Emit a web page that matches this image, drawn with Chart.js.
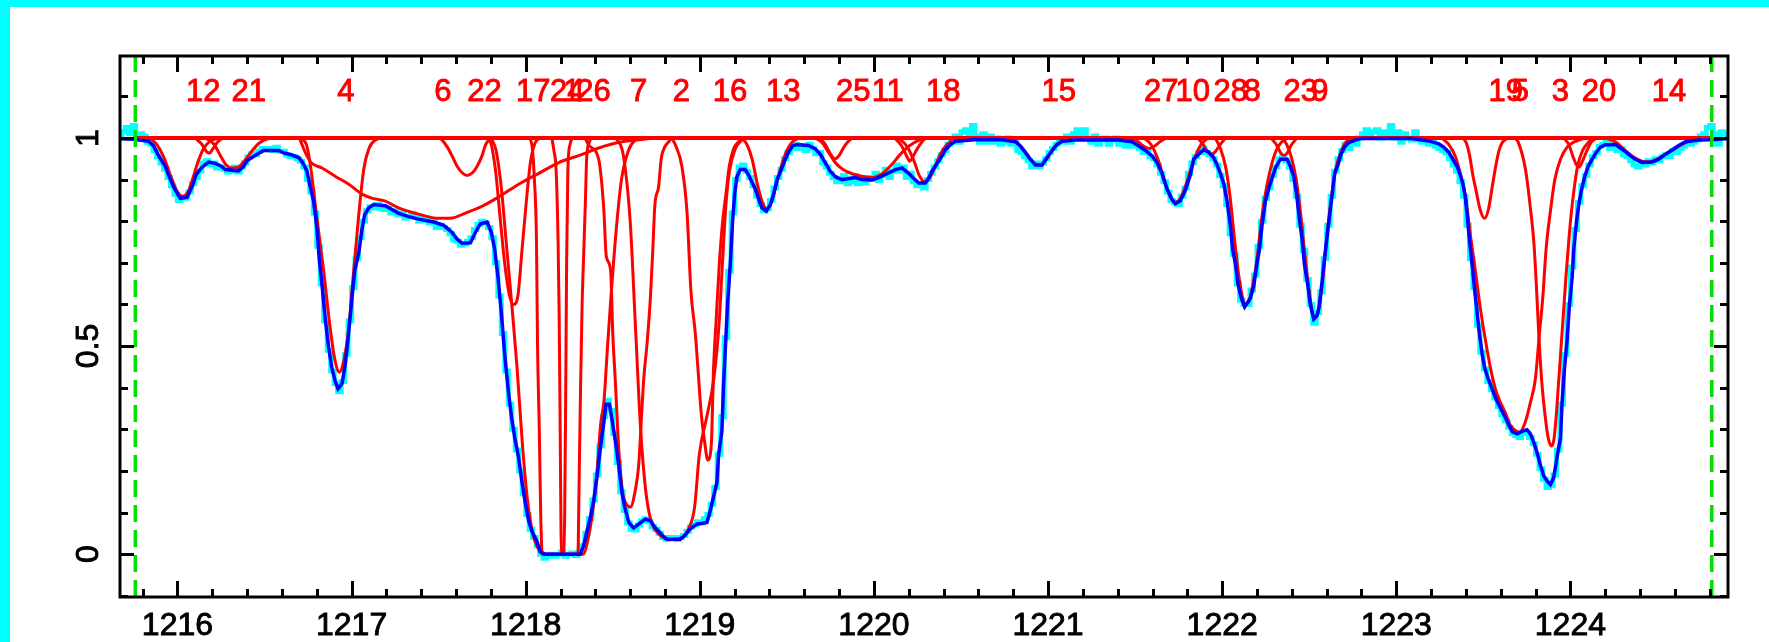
<!DOCTYPE html>
<html>
<head>
<meta charset="utf-8">
<script src="https://cdn.jsdelivr.net/npm/chart.js@4.4.1/dist/chart.umd.min.js"></script>
<style>
  html, body { margin: 0; padding: 0; background: #fff; }
  #wrap { position: relative; width: 1769px; height: 642px; }
</style>
</head>
<body>
<div id="wrap"><canvas id="spec" width="1769" height="642"></canvas></div>
<script>
// Axis ranges (wavelength in Angstrom, normalised flux)
const xMin = 1215.67, xMax = 1224.905;
const yMin = -0.103, yMax = 1.197;
const xTickLabels = [1216, 1217, 1218, 1219, 1220, 1221, 1222, 1223, 1224];
const yTickLabels = [0, 0.5, 1];
const fitRange = [1215.758, 1224.812];

// Component ids written across the top, at the wavelength where each starts
const labelNames = ['12', '21', '4', '6', '22', '17', '24', '1', '26', '7', '2', '16', '13', '25', '11',
  '18', '15', '27', '10', '28', '8', '23', '9', '19', '5', '3', '20', '14'];
const labelWaves = [1216.049, 1216.311, 1216.918, 1217.475, 1217.665, 1217.944, 1218.140, 1218.215,
  1218.291, 1218.599, 1218.844, 1219.074, 1219.380, 1219.782, 1219.987, 1220.299, 1220.963,
  1221.551, 1221.732, 1221.950, 1222.122, 1222.352, 1222.512, 1223.529, 1223.663, 1223.893,
  1224.065, 1224.467];

// Observed spectrum (cyan histogram)
const dataFlux = [
  [1215.67,1.005],[1215.69,1.015],[1215.71,1.025],[1215.73,1.01],[1215.75,1.03],[1215.77,1.0],[1215.79,1.01],[1215.81,1.005],
  [1215.83,0.99],[1215.85,0.985],[1215.87,0.97],[1215.89,0.955],[1215.91,0.94],[1215.93,0.925],[1215.95,0.905],[1215.97,0.885],
  [1215.99,0.865],[1216.01,0.85],[1216.03,0.855],[1216.05,0.855],[1216.07,0.87],[1216.09,0.89],[1216.11,0.905],[1216.13,0.92],
  [1216.15,0.94],[1216.17,0.945],[1216.19,0.935],[1216.21,0.94],[1216.23,0.928],[1216.25,0.93],[1216.27,0.925],[1216.29,0.918],
  [1216.31,0.92],[1216.33,0.93],[1216.35,0.918],[1216.37,0.93],[1216.39,0.94],[1216.41,0.955],[1216.43,0.962],[1216.45,0.96],
  [1216.47,0.968],[1216.49,0.975],[1216.51,0.972],[1216.53,0.975],[1216.55,0.97],[1216.57,0.978],[1216.59,0.968],[1216.61,0.968],
  [1216.63,0.96],[1216.65,0.955],[1216.67,0.955],[1216.69,0.95],[1216.71,0.944],[1216.73,0.93],[1216.75,0.9],[1216.77,0.87],
  [1216.79,0.82],[1216.81,0.74],[1216.83,0.65],[1216.85,0.56],[1216.87,0.49],[1216.89,0.44],[1216.91,0.41],[1216.93,0.39],
  [1216.95,0.415],[1216.97,0.48],[1216.99,0.56],[1217.01,0.64],[1217.03,0.71],[1217.05,0.76],[1217.07,0.80],[1217.09,0.825],
  [1217.11,0.835],[1217.13,0.832],[1217.15,0.84],[1217.17,0.83],[1217.19,0.828],[1217.21,0.832],[1217.23,0.82],[1217.25,0.825],
  [1217.27,0.815],[1217.29,0.82],[1217.31,0.808],[1217.33,0.81],[1217.35,0.818],[1217.37,0.81],[1217.39,0.8],[1217.41,0.808],
  [1217.43,0.802],[1217.45,0.796],[1217.47,0.80],[1217.49,0.785],[1217.51,0.79],[1217.53,0.785],[1217.55,0.78],[1217.57,0.77],
  [1217.59,0.755],[1217.61,0.752],[1217.63,0.742],[1217.65,0.745],[1217.67,0.752],[1217.69,0.76],[1217.71,0.78],[1217.73,0.792],
  [1217.75,0.8],[1217.77,0.795],[1217.79,0.785],[1217.81,0.76],[1217.83,0.70],[1217.85,0.62],[1217.87,0.53],[1217.89,0.44],
  [1217.91,0.36],[1217.93,0.30],[1217.95,0.25],[1217.97,0.20],[1217.99,0.145],[1218.01,0.095],[1218.03,0.06],[1218.05,0.04],
  [1218.07,0.02],[1218.09,0.0],[1218.11,-0.01],[1218.13,-0.005],[1218.15,0.0],[1218.17,-0.005],[1218.19,0.0],[1218.21,0.005],
  [1218.23,-0.005],[1218.25,0.0],[1218.27,0.003],[1218.29,-0.003],[1218.31,0.005],[1218.33,0.02],[1218.35,0.05],[1218.37,0.085],
  [1218.39,0.13],[1218.41,0.19],[1218.43,0.26],[1218.45,0.33],[1218.47,0.37],[1218.49,0.345],[1218.51,0.29],[1218.53,0.22],
  [1218.55,0.15],[1218.57,0.105],[1218.59,0.075],[1218.61,0.06],[1218.63,0.058],[1218.65,0.07],[1218.67,0.08],[1218.69,0.085],
  [1218.71,0.078],[1218.73,0.065],[1218.75,0.06],[1218.77,0.05],[1218.79,0.04],[1218.81,0.035],[1218.83,0.04],[1218.85,0.04],
  [1218.87,0.035],[1218.89,0.04],[1218.91,0.045],[1218.93,0.055],[1218.95,0.065],[1218.97,0.07],[1218.99,0.078],[1219.01,0.075],
  [1219.03,0.085],[1219.05,0.095],[1219.07,0.12],[1219.09,0.16],[1219.11,0.24],[1219.13,0.33],[1219.15,0.52],[1219.17,0.68],
  [1219.19,0.82],[1219.21,0.90],[1219.23,0.93],[1219.25,0.935],[1219.27,0.92],[1219.29,0.905],[1219.31,0.885],[1219.33,0.86],
  [1219.35,0.84],[1219.37,0.825],[1219.39,0.83],[1219.41,0.85],[1219.43,0.88],[1219.45,0.905],[1219.47,0.925],[1219.49,0.95],
  [1219.51,0.965],[1219.53,0.975],[1219.55,0.985],[1219.57,0.975],[1219.59,0.98],[1219.61,0.97],[1219.63,0.985],[1219.65,0.975],
  [1219.67,0.962],[1219.69,0.965],[1219.71,0.94],[1219.73,0.93],[1219.75,0.915],[1219.77,0.905],[1219.79,0.895],[1219.81,0.895],
  [1219.83,0.91],[1219.85,0.89],[1219.87,0.895],[1219.89,0.91],[1219.91,0.89],[1219.93,0.9],[1219.95,0.892],[1219.97,0.905],
  [1219.99,0.90],[1220.01,0.915],[1220.03,0.898],[1220.05,0.91],[1220.07,0.925],[1220.09,0.905],[1220.11,0.92],[1220.13,0.935],
  [1220.15,0.92],[1220.17,0.93],[1220.19,0.905],[1220.21,0.915],[1220.23,0.895],[1220.25,0.885],[1220.27,0.89],[1220.29,0.88],
  [1220.31,0.9],[1220.33,0.915],[1220.35,0.93],[1220.37,0.945],[1220.39,0.96],[1220.41,0.97],[1220.43,0.985],[1220.45,0.99],
  [1220.47,1.005],[1220.49,0.99],[1220.51,1.015],[1220.53,1.02],[1220.55,1.01],[1220.57,1.03],[1220.59,1.005],[1220.61,0.99],
  [1220.63,1.01],[1220.65,0.99],[1220.67,1.005],[1220.69,0.99],[1220.71,1.0],[1220.73,0.985],[1220.75,0.99],[1220.77,1.0],
  [1220.79,0.985],[1220.81,0.99],[1220.83,0.97],[1220.85,0.965],[1220.87,0.955],[1220.89,0.945],[1220.91,0.93],[1220.93,0.94],
  [1220.95,0.93],[1220.97,0.94],[1220.99,0.95],[1221.01,0.965],[1221.03,0.975],[1221.05,0.985],[1221.07,0.995],[1221.09,0.99],
  [1221.11,1.005],[1221.13,0.99],[1221.15,1.01],[1221.17,1.02],[1221.19,1.005],[1221.21,1.02],[1221.23,1.0],[1221.25,0.99],
  [1221.27,1.005],[1221.29,0.985],[1221.31,0.995],[1221.33,1.0],[1221.35,0.985],[1221.37,0.995],[1221.39,1.0],[1221.41,0.985],
  [1221.43,0.995],[1221.45,0.98],[1221.47,0.99],[1221.49,0.98],[1221.51,0.985],[1221.53,0.975],[1221.55,0.965],[1221.57,0.97],
  [1221.59,0.955],[1221.61,0.95],[1221.63,0.935],[1221.65,0.915],[1221.67,0.895],[1221.69,0.87],[1221.71,0.85],[1221.73,0.845],
  [1221.75,0.84],[1221.77,0.86],[1221.79,0.88],[1221.81,0.915],[1221.83,0.94],[1221.85,0.955],[1221.87,0.965],[1221.89,0.975],
  [1221.91,0.965],[1221.93,0.96],[1221.95,0.95],[1221.97,0.935],[1221.99,0.91],[1222.01,0.885],[1222.03,0.84],[1222.05,0.77],
  [1222.07,0.72],[1222.09,0.65],[1222.11,0.61],[1222.13,0.6],[1222.15,0.6],[1222.17,0.635],[1222.19,0.67],[1222.21,0.74],
  [1222.23,0.80],[1222.25,0.855],[1222.27,0.88],[1222.29,0.91],[1222.31,0.93],[1222.33,0.95],[1222.35,0.955],[1222.37,0.945],
  [1222.39,0.93],[1222.41,0.9],[1222.43,0.86],[1222.45,0.79],[1222.47,0.73],[1222.49,0.66],[1222.51,0.6],[1222.53,0.555],
  [1222.55,0.58],[1222.57,0.63],[1222.59,0.71],[1222.61,0.79],[1222.63,0.86],[1222.65,0.92],[1222.67,0.95],[1222.69,0.97],
  [1222.71,0.985],[1222.73,0.975],[1222.75,0.995],[1222.77,0.985],[1222.79,1.0],[1222.81,1.01],[1222.83,1.02],[1222.85,1.005],
  [1222.87,1.015],[1222.89,1.02],[1222.91,1.0],[1222.93,1.015],[1222.95,1.01],[1222.97,1.03],[1222.99,1.0],[1223.01,1.015],
  [1223.03,0.99],[1223.05,1.01],[1223.07,1.0],[1223.09,0.995],[1223.11,1.015],[1223.13,0.995],[1223.15,0.99],[1223.17,0.995],
  [1223.19,0.985],[1223.21,0.99],[1223.23,0.98],[1223.25,0.975],[1223.27,0.97],[1223.29,0.965],[1223.31,0.95],[1223.33,0.935],
  [1223.35,0.92],[1223.37,0.895],[1223.39,0.86],[1223.41,0.79],[1223.43,0.71],[1223.45,0.64],[1223.47,0.55],[1223.49,0.485],
  [1223.51,0.445],[1223.53,0.415],[1223.55,0.395],[1223.57,0.375],[1223.59,0.355],[1223.61,0.335],[1223.63,0.32],[1223.65,0.305],
  [1223.67,0.29],[1223.69,0.285],[1223.71,0.28],[1223.73,0.29],[1223.75,0.29],[1223.77,0.28],[1223.79,0.265],[1223.81,0.24],
  [1223.83,0.205],[1223.85,0.18],[1223.87,0.16],[1223.89,0.165],[1223.91,0.19],[1223.93,0.25],[1223.95,0.36],[1223.97,0.48],
  [1223.99,0.6],[1224.01,0.69],[1224.03,0.78],[1224.05,0.845],[1224.07,0.885],[1224.09,0.91],[1224.11,0.935],[1224.13,0.955],
  [1224.15,0.965],[1224.17,0.98],[1224.19,0.985],[1224.21,0.99],[1224.23,0.975],[1224.25,0.985],[1224.27,0.97],[1224.29,0.975],
  [1224.31,0.96],[1224.33,0.955],[1224.35,0.945],[1224.37,0.935],[1224.39,0.93],[1224.41,0.94],[1224.43,0.935],[1224.45,0.945],
  [1224.47,0.94],[1224.49,0.95],[1224.51,0.945],[1224.53,0.955],[1224.55,0.96],[1224.57,0.955],[1224.59,0.97],[1224.61,0.965],
  [1224.63,0.975],[1224.65,0.98],[1224.67,0.985],[1224.69,0.985],[1224.71,0.99],[1224.73,0.995],[1224.75,1.005],[1224.77,1.01],
  [1224.79,1.025],[1224.81,1.03],[1224.83,1.01],[1224.85,0.985],[1224.87,1.015],[1224.89,1.01],[1224.905,1.0]
];

// Total fitted profile (blue)
const fitFlux = [
  [1215.67,0.998],[1215.75,0.997],[1215.834,0.992],[1215.863,0.981],[1215.892,0.957],[1215.930,0.932],[1215.949,0.911],
  [1215.978,0.882],[1216.001,0.865],[1216.016,0.855],[1216.055,0.857],[1216.068,0.869],[1216.087,0.886],[1216.106,0.911],
  [1216.137,0.928],[1216.160,0.936],[1216.179,0.942],[1216.217,0.939],[1216.252,0.932],[1216.275,0.924],[1216.351,0.921],
  [1216.380,0.932],[1216.399,0.945],[1216.428,0.953],[1216.457,0.961],[1216.495,0.970],[1216.581,0.970],[1216.610,0.964],
  [1216.658,0.959],[1216.696,0.953],[1216.719,0.941],[1216.744,0.920],[1216.763,0.882],[1216.782,0.848],[1216.801,0.782],
  [1216.815,0.706],[1216.830,0.648],[1216.849,0.564],[1216.868,0.497],[1216.887,0.447],[1216.907,0.414],[1216.922,0.397],
  [1216.945,0.410],[1216.964,0.456],[1216.983,0.531],[1217.002,0.615],[1217.018,0.681],[1217.041,0.723],[1217.060,0.782],
  [1217.075,0.815],[1217.098,0.832],[1217.127,0.840],[1217.194,0.837],[1217.232,0.828],[1217.271,0.819],[1217.328,0.811],
  [1217.385,0.805],[1217.472,0.798],[1217.529,0.790],[1217.577,0.773],[1217.606,0.757],[1217.634,0.747],[1217.682,0.748],
  [1217.711,0.773],[1217.740,0.794],[1217.778,0.798],[1217.803,0.773],[1217.822,0.732],[1217.841,0.665],[1217.860,0.581],
  [1217.879,0.481],[1217.899,0.397],[1217.918,0.331],[1217.937,0.280],[1217.960,0.230],[1217.979,0.172],[1217.998,0.122],
  [1218.017,0.080],[1218.036,0.055],[1218.065,0.030],[1218.084,0.005],[1218.113,0.0],[1218.314,0.0],[1218.333,0.021],
  [1218.352,0.055],[1218.371,0.088],[1218.391,0.130],[1218.410,0.188],[1218.429,0.255],[1218.448,0.314],[1218.461,0.360],
  [1218.481,0.360],[1218.496,0.322],[1218.515,0.272],[1218.534,0.214],[1218.553,0.147],[1218.569,0.113],[1218.592,0.076],
  [1218.620,0.063],[1218.649,0.072],[1218.687,0.084],[1218.716,0.080],[1218.745,0.063],[1218.763,0.055],[1218.792,0.042],
  [1218.811,0.036],[1218.888,0.036],[1218.916,0.046],[1218.945,0.061],[1218.983,0.072],[1219.041,0.076],[1219.060,0.105],
  [1219.079,0.138],[1219.098,0.172],[1219.108,0.239],[1219.127,0.297],[1219.136,0.406],[1219.146,0.489],[1219.159,0.598],
  [1219.175,0.698],[1219.188,0.799],[1219.200,0.865],[1219.213,0.907],[1219.232,0.924],[1219.261,0.924],[1219.280,0.911],
  [1219.299,0.894],[1219.318,0.878],[1219.338,0.853],[1219.357,0.832],[1219.382,0.824],[1219.405,0.840],[1219.424,0.865],
  [1219.443,0.899],[1219.468,0.924],[1219.491,0.949],[1219.510,0.966],[1219.533,0.981],[1219.558,0.984],[1219.625,0.982],
  [1219.663,0.974],[1219.692,0.961],[1219.720,0.941],[1219.749,0.920],[1219.778,0.907],[1219.816,0.900],[1219.893,0.905],
  [1219.931,0.900],[1219.988,0.899],[1220.027,0.905],[1220.075,0.914],[1220.123,0.924],[1220.161,0.928],[1220.199,0.915],
  [1220.228,0.903],[1220.257,0.892],[1220.295,0.892],[1220.314,0.903],[1220.333,0.920],[1220.352,0.932],[1220.372,0.945],
  [1220.391,0.957],[1220.410,0.972],[1220.439,0.984],[1220.467,0.992],[1220.582,0.996],[1220.735,0.996],[1220.812,0.991],
  [1220.841,0.981],[1220.869,0.966],[1220.898,0.949],[1220.927,0.935],[1220.965,0.935],[1220.994,0.953],[1221.023,0.970],
  [1221.051,0.984],[1221.080,0.992],[1221.157,0.995],[1221.405,0.995],[1221.482,0.991],[1221.520,0.981],[1221.559,0.970],
  [1221.597,0.957],[1221.626,0.941],[1221.654,0.915],[1221.683,0.878],[1221.712,0.853],[1221.731,0.842],[1221.760,0.849],
  [1221.788,0.874],[1221.817,0.911],[1221.836,0.949],[1221.865,0.961],[1221.894,0.972],[1221.923,0.966],[1221.951,0.953],
  [1221.970,0.936],[1221.990,0.915],[1222.009,0.890],[1222.028,0.848],[1222.047,0.790],[1222.060,0.732],[1222.076,0.698],
  [1222.091,0.648],[1222.110,0.615],[1222.129,0.594],[1222.162,0.615],[1222.181,0.644],[1222.200,0.698],[1222.214,0.732],
  [1222.229,0.790],[1222.248,0.848],[1222.267,0.878],[1222.286,0.903],[1222.306,0.928],[1222.334,0.949],[1222.373,0.949],
  [1222.392,0.932],[1222.411,0.907],[1222.426,0.869],[1222.443,0.807],[1222.459,0.757],[1222.472,0.698],[1222.491,0.648],
  [1222.507,0.598],[1222.526,0.565],[1222.545,0.573],[1222.558,0.598],[1222.574,0.656],[1222.589,0.715],[1222.608,0.782],
  [1222.627,0.848],[1222.646,0.915],[1222.665,0.936],[1222.683,0.961],[1222.702,0.978],[1222.727,0.989],[1222.765,0.995],
  [1222.803,0.999],[1223.090,0.999],[1223.186,0.993],[1223.244,0.986],[1223.272,0.978],[1223.301,0.966],[1223.324,0.949],
  [1223.349,0.932],[1223.368,0.911],[1223.387,0.882],[1223.397,0.855],[1223.407,0.815],[1223.416,0.773],[1223.426,0.732],
  [1223.439,0.681],[1223.451,0.631],[1223.464,0.581],[1223.477,0.531],[1223.493,0.481],[1223.508,0.447],[1223.527,0.422],
  [1223.550,0.397],[1223.573,0.372],[1223.598,0.351],[1223.623,0.331],[1223.646,0.310],[1223.669,0.293],[1223.694,0.289],
  [1223.722,0.295],[1223.751,0.299],[1223.770,0.289],[1223.790,0.268],[1223.809,0.243],[1223.828,0.213],[1223.847,0.188],
  [1223.866,0.176],[1223.885,0.167],[1223.904,0.184],[1223.922,0.230],[1223.943,0.280],[1223.952,0.364],[1223.966,0.447],
  [1223.981,0.514],[1223.994,0.598],[1224.010,0.665],[1224.019,0.732],[1224.035,0.799],[1224.048,0.840],[1224.063,0.874],
  [1224.082,0.907],[1224.102,0.932],[1224.125,0.949],[1224.149,0.966],[1224.172,0.978],[1224.201,0.984],[1224.259,0.984],
  [1224.287,0.976],[1224.316,0.967],[1224.345,0.957],[1224.373,0.949],[1224.412,0.941],[1224.469,0.942],[1224.507,0.949],
  [1224.546,0.961],[1224.584,0.971],[1224.622,0.982],[1224.661,0.991],[1224.737,0.995],[1224.814,0.996],[1224.905,0.999]
];

// Continuum level over the fitted range (red)
const continuum = [[1215.758, 1.0], [1224.812, 1.0]];

// Individual absorption components (red)
const c12 = [[1215.84,1],[1215.88,0.985],[1215.92,0.955],[1215.96,0.91],[1216.0,0.87],[1216.03,0.86],[1216.06,0.87],
  [1216.09,0.905],[1216.12,0.945],[1216.15,0.975],[1216.19,0.993],[1216.24,1]];
const cA = [[1216.10,1],[1216.14,0.985],[1216.17,0.966],[1216.185,0.964],[1216.20,0.972],[1216.23,0.99],[1216.26,1]];
const c21 = [[1216.16,1],[1216.21,0.985],[1216.25,0.955],[1216.28,0.935],[1216.31,0.928],[1216.35,0.93],[1216.39,0.948],
  [1216.43,0.97],[1216.47,0.988],[1216.52,0.998],[1216.58,1]];
const c4 = [[1216.70,1],[1216.74,0.985],[1216.765,0.93],[1216.80,0.81],[1216.84,0.68],[1216.875,0.55],[1216.905,0.465],
  [1216.93,0.437],[1216.955,0.465],[1216.983,0.54],[1217.012,0.68],[1217.04,0.81],[1217.07,0.925],[1217.10,0.975],
  [1217.14,0.996],[1217.18,1]];
const c6 = [[1216.70,1],[1216.74,0.96],[1216.77,0.94],[1216.83,0.928],[1216.91,0.907],[1216.98,0.89],[1217.06,0.865],
  [1217.12,0.855],[1217.19,0.849],[1217.27,0.832],[1217.385,0.817],[1217.50,0.807],[1217.58,0.808],[1217.65,0.819],
  [1217.75,0.836],[1217.855,0.861],[1217.96,0.889],[1218.075,0.915],[1218.19,0.941],[1218.30,0.957],[1218.42,0.976],
  [1218.53,0.989],[1218.65,0.996],[1218.75,1]];
const c22 = [[1217.50,1],[1217.52,0.995],[1217.55,0.978],[1217.577,0.957],[1217.606,0.932],[1217.634,0.917],[1217.663,0.910],
  [1217.696,0.917],[1217.721,0.932],[1217.749,0.957],[1217.768,0.982],[1217.788,0.995],[1217.81,1]];
const c17 = [[1217.77,1],[1217.797,0.991],[1217.826,0.924],[1217.855,0.80],[1217.879,0.70],[1217.906,0.623],[1217.931,0.600],
  [1217.956,0.623],[1217.979,0.732],[1218.002,0.84],[1218.027,0.941],[1218.052,0.986],[1218.08,1]];
const cH = [[1217.80,1],[1217.83,0.97],[1217.86,0.88],[1217.89,0.74],[1217.92,0.6],[1217.95,0.45],[1217.98,0.27],
  [1218.01,0.13],[1218.04,0.05],[1218.07,0.015],[1218.10,0],[1218.33,0],[1218.36,0.04],[1218.39,0.12],[1218.41,0.2],
  [1218.43,0.31],[1218.45,0.37],[1218.47,0.5],[1218.49,0.62],[1218.52,0.78],[1218.55,0.9],[1218.59,0.97],[1218.63,0.995],
  [1218.67,1]];
const c24 = [[1218.02,1],[1218.035,0.985],[1218.05,0.9],[1218.062,0.75],[1218.068,0.5],[1218.078,0.3],[1218.086,0.1],
  [1218.095,0],[1218.215,0],[1218.224,0.1],[1218.23,0.4],[1218.235,0.7],[1218.242,0.92],[1218.255,0.985],[1218.27,1]];
const c1 = [[1218.15,1],[1218.162,0.97],[1218.175,0.92],[1218.186,0.75],[1218.192,0.58],[1218.198,0.3],[1218.203,0.05],
  [1218.21,0],[1218.30,0],[1218.306,0.15],[1218.315,0.4],[1218.324,0.6],[1218.333,0.72],[1218.343,0.85],[1218.35,0.95],
  [1218.365,0.99],[1218.38,1]];
const c7 = [[1218.34,1],[1218.366,0.981],[1218.419,0.949],[1218.448,0.832],[1218.463,0.715],[1218.488,0.681],[1218.50,0.531],
  [1218.515,0.414],[1218.534,0.255],[1218.557,0.147],[1218.576,0.122],[1218.601,0.113],[1218.630,0.155],[1218.649,0.214],
  [1218.664,0.322],[1218.678,0.422],[1218.697,0.506],[1218.716,0.615],[1218.730,0.732],[1218.742,0.84],[1218.763,0.882],
  [1218.778,0.949],[1218.798,0.978],[1218.817,0.989],[1218.84,1]];
const c2 = [[1218.52,1],[1218.56,0.96],[1218.60,0.8],[1218.63,0.55],[1218.66,0.3],[1218.69,0.15],[1218.72,0.08],
  [1218.76,0.05],[1218.80,0.038],[1218.85,0.035],[1218.90,0.04],[1218.935,0.06],[1218.97,0.113],[1218.997,0.239],
  [1219.04,0.33],[1219.08,0.42],[1219.11,0.55],[1219.13,0.7],[1219.15,0.84],[1219.17,0.92],[1219.20,0.97],[1219.24,0.995],
  [1219.28,1]];
const c16 = [[1218.84,1],[1218.86,0.983],[1218.897,0.932],[1218.926,0.824],[1218.949,0.632],[1218.974,0.531],[1218.989,0.447],
  [1219.008,0.339],[1219.027,0.272],[1219.046,0.226],[1219.066,0.264],[1219.079,0.447],[1219.094,0.564],[1219.112,0.698],
  [1219.131,0.799],[1219.150,0.865],[1219.169,0.932],[1219.194,0.974],[1219.223,0.991],[1219.25,1]];
const c13 = [[1219.24,1],[1219.27,0.985],[1219.30,0.95],[1219.33,0.89],[1219.36,0.845],[1219.383,0.83],[1219.41,0.845],
  [1219.44,0.89],[1219.47,0.935],[1219.50,0.97],[1219.53,0.99],[1219.57,1]];
const c25 = [[1219.69,1],[1219.72,0.985],[1219.75,0.962],[1219.775,0.95],[1219.80,0.958],[1219.83,0.98],[1219.86,0.995],
  [1219.88,1]];
const c11 = [[1219.66,1],[1219.70,0.99],[1219.74,0.965],[1219.78,0.94],[1219.82,0.925],[1219.87,0.915],[1219.93,0.908],
  [1219.99,0.905],[1220.05,0.915],[1220.10,0.935],[1220.15,0.96],[1220.20,0.98],[1220.26,0.995],[1220.32,1]];
const cB = [[1220.12,1],[1220.16,0.98],[1220.19,0.955],[1220.205,0.944],[1220.22,0.952],[1220.25,0.975],[1220.28,0.993],
  [1220.30,1]];
const c18 = [[1220.14,1],[1220.19,0.98],[1220.23,0.945],[1220.26,0.91],[1220.29,0.895],[1220.32,0.905],[1220.35,0.93],
  [1220.38,0.96],[1220.42,0.985],[1220.47,0.998],[1220.52,1]];
const c15 = [[1220.78,1],[1220.82,0.99],[1220.86,0.97],[1220.90,0.948],[1220.93,0.937],[1220.96,0.935],[1220.99,0.948],
  [1221.02,0.968],[1221.05,0.984],[1221.09,0.995],[1221.13,1]];
const c27 = [[1221.48,1],[1221.52,0.99],[1221.55,0.98],[1221.58,0.975],[1221.61,0.98],[1221.64,0.99],[1221.68,1]];
const c10 = [[1221.55,1],[1221.59,0.985],[1221.63,0.95],[1221.67,0.895],[1221.70,0.86],[1221.73,0.845],[1221.76,0.855],
  [1221.79,0.885],[1221.82,0.925],[1221.85,0.96],[1221.88,0.985],[1221.92,1]];
const c28 = [[1221.86,1],[1221.89,0.985],[1221.92,0.965],[1221.94,0.96],[1221.96,0.967],[1221.99,0.985],[1222.02,1]];
const c8 = [[1221.96,1],[1221.99,0.975],[1222.02,0.93],[1222.045,0.86],[1222.07,0.76],[1222.095,0.67],[1222.115,0.62],
  [1222.13,0.6],[1222.15,0.605],[1222.175,0.645],[1222.20,0.71],[1222.225,0.80],[1222.25,0.87],[1222.28,0.93],
  [1222.31,0.97],[1222.34,0.99],[1222.38,1]];
const c23 = [[1222.28,1],[1222.31,0.985],[1222.335,0.965],[1222.355,0.958],[1222.375,0.965],[1222.40,0.985],[1222.43,1]];
const c9 = [[1222.34,1],[1222.37,0.985],[1222.40,0.95],[1222.425,0.9],[1222.45,0.82],[1222.475,0.72],[1222.50,0.63],
  [1222.525,0.57],[1222.55,0.58],[1222.575,0.65],[1222.60,0.76],[1222.625,0.85],[1222.65,0.92],[1222.68,0.965],
  [1222.71,0.99],[1222.75,1]];
const c19 = [[1223.38,1],[1223.40,0.99],[1223.42,0.96],[1223.44,0.91],[1223.46,0.87],[1223.48,0.83],[1223.507,0.807],
  [1223.53,0.83],[1223.55,0.88],[1223.57,0.93],[1223.59,0.97],[1223.61,0.99],[1223.64,1]];
const c5 = [[1223.26,1],[1223.30,0.985],[1223.34,0.955],[1223.37,0.91],[1223.397,0.86],[1223.426,0.765],[1223.454,0.681],
  [1223.483,0.590],[1223.512,0.514],[1223.541,0.447],[1223.569,0.397],[1223.598,0.364],[1223.627,0.339],[1223.655,0.310],
  [1223.684,0.297],[1223.707,0.293],[1223.738,0.314],[1223.770,0.364],[1223.799,0.422],[1223.822,0.531],[1223.841,0.615],
  [1223.860,0.732],[1223.885,0.824],[1223.910,0.899],[1223.943,0.949],[1223.981,0.978],[1224.029,0.992],[1224.08,1]];
const c3 = [[1223.68,1],[1223.70,0.99],[1223.742,0.924],[1223.770,0.832],[1223.790,0.749],[1223.803,0.657],[1223.818,0.531],
  [1223.834,0.422],[1223.853,0.339],[1223.872,0.280],[1223.891,0.260],[1223.905,0.275],[1223.918,0.33],[1223.93,0.40],
  [1223.945,0.49],[1223.96,0.58],[1223.975,0.67],[1223.99,0.75],[1224.005,0.82],[1224.022,0.88],[1224.04,0.93],
  [1224.07,0.97],[1224.105,0.99],[1224.14,1]];
const c20 = [[1223.96,1],[1223.99,0.985],[1224.015,0.955],[1224.035,0.935],[1224.05,0.93],[1224.07,0.945],[1224.095,0.97],
  [1224.12,0.99],[1224.15,1]];
const c14 = [[1224.20,1],[1224.26,0.99],[1224.31,0.972],[1224.36,0.955],[1224.41,0.944],[1224.45,0.942],[1224.50,0.95],
  [1224.56,0.965],[1224.62,0.98],[1224.68,0.992],[1224.75,0.998],[1224.80,1]];

const components = [c12, cA, c21, c4, c6, c22, c17, cH, c24, c1, c7, c2, c16, c13, c25, c11, cB, c18, c15, c27,
  c10, c28, c8, c23, c9, c19, c5, c3, c20, c14];

const toPoints = arr => arr.map(p => ({ x: p[0], y: p[1] }));

const datasets = [];
// green dashed lines marking the fitted region
fitRange.forEach(w => {
  datasets.push({
    data: [{ x: w, y: yMin }, { x: w, y: yMax }],
    borderColor: '#00e000', borderWidth: 3.5, borderDash: [17, 8], order: 0
  });
});
datasets.push({
  data: toPoints(fitFlux), borderColor: '#0000ff', borderWidth: 3.5, order: 1
});
components.forEach(c => {
  datasets.push({
    data: toPoints(c), borderColor: '#ff0000', borderWidth: 3,
    cubicInterpolationMode: 'monotone', order: 2
  });
});
datasets.push({
  data: toPoints(continuum), borderColor: '#ff0000', borderWidth: 4, order: 3
});
datasets.push({
  data: toPoints(dataFlux), borderColor: '#00ffff', borderWidth: 5, stepped: 'middle', order: 4
});

const FONT = '32px "Liberation Sans", Arial, sans-serif';

function label(ctx, s, x, y) {
  ctx.fillText(s, x, y);
  ctx.strokeText(s, x, y);
}

// Frame, inward ticks, tick labels, cyan window border and component ids
const decorations = {
  id: 'decorations',
  beforeDraw(chart) {
    const ctx = chart.ctx;
    ctx.save();
    ctx.fillStyle = '#ffffff';
    ctx.fillRect(0, 0, chart.width, chart.height);
    ctx.fillStyle = '#00ffff';
    ctx.fillRect(0, 0, chart.width, 7);
    ctx.fillRect(0, 0, 10, chart.height);
    ctx.restore();
  },
  afterDatasetsDraw(chart) {
    const { ctx, chartArea: a, scales: { x, y } } = chart;
    ctx.save();
    ctx.strokeStyle = '#000';
    ctx.lineWidth = 3;
    ctx.lineCap = 'butt';
    ctx.beginPath();
    // x ticks: majors every 1, minors every 0.2
    for (let k = Math.ceil(xMin * 5); k <= Math.floor(xMax * 5); k++) {
      const px = Math.round(x.getPixelForValue(k / 5)) + 0.5;
      const len = k % 5 === 0 ? 16 : 8;
      ctx.moveTo(px, a.top); ctx.lineTo(px, a.top + len);
      ctx.moveTo(px, a.bottom); ctx.lineTo(px, a.bottom - len);
    }
    // y ticks: majors every 0.5, minors every 0.1
    for (let k = Math.ceil(yMin * 10); k <= Math.floor(yMax * 10); k++) {
      const py = Math.round(y.getPixelForValue(k / 10)) + 0.5;
      const len = k % 5 === 0 ? 14 : 8;
      ctx.moveTo(a.left, py); ctx.lineTo(a.left + len, py);
      ctx.moveTo(a.right, py); ctx.lineTo(a.right - len, py);
    }
    ctx.stroke();
    ctx.strokeRect(a.left, a.top, a.right - a.left, a.bottom - a.top);

    ctx.fillStyle = '#000';
    ctx.strokeStyle = '#000';
    ctx.lineWidth = 0.9;
    ctx.font = FONT;
    ctx.textAlign = 'center';
    ctx.textBaseline = 'alphabetic';
    xTickLabels.forEach(v => label(ctx, String(v), x.getPixelForValue(v), a.bottom + 38));
    yTickLabels.forEach(v => {
      ctx.save();
      ctx.translate(a.left - 22, y.getPixelForValue(v));
      ctx.rotate(-Math.PI / 2);
      label(ctx, String(v), 0, 0);
      ctx.restore();
    });

    ctx.fillStyle = '#ff0000';
    ctx.strokeStyle = '#ff0000';
    ctx.font = '31px "Liberation Sans", Arial, sans-serif';
    ctx.textAlign = 'left';
    labelNames.forEach((s, i) => label(ctx, s, x.getPixelForValue(labelWaves[i]), a.top + 45));
    ctx.restore();
  }
};

new Chart(document.getElementById('spec'), {
  type: 'scatter',
  data: { datasets: datasets.map(d => Object.assign({ showLine: true, pointRadius: 0, fill: false }, d)) },
  options: {
    responsive: false,
    animation: false,
    devicePixelRatio: 1,
    layout: { padding: { left: 120, top: 56, right: 41, bottom: 45 } },
    plugins: { legend: { display: false }, tooltip: { enabled: false } },
    scales: {
      x: { type: 'linear', min: xMin, max: xMax, display: false },
      y: { type: 'linear', min: yMin, max: yMax, display: false }
    }
  },
  plugins: [decorations]
});
</script>
</body>
</html>
